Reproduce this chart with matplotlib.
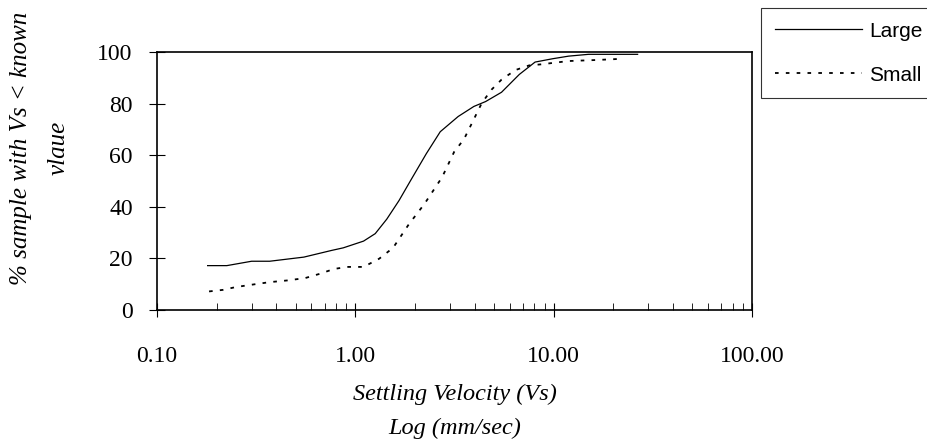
import matplotlib

matplotlib.use("Agg")
import matplotlib.pyplot as plt
from matplotlib.ticker import FixedLocator, LogLocator, NullFormatter

# settling velocity (mm/sec) vs cumulative % of sample below that velocity
large_vs = [0.18, 0.225, 0.30, 0.37, 0.55, 0.76, 0.87, 1.10, 1.26, 1.44, 1.66, 1.90,
            2.28, 2.68, 3.30, 3.96, 4.54, 5.46, 6.71, 8.06, 9.9, 11.9, 15.0, 26.5]
large_pct = [17.2, 17.2, 18.9, 18.9, 20.5, 23.1, 24.1, 26.7, 29.6, 35.2, 42.4, 50.2,
             60.6, 69.1, 75.0, 78.9, 80.8, 84.4, 91.3, 96.1, 97.4, 98.4, 99.1, 99.1]

small_vs = [0.183, 0.215, 0.25, 0.30, 0.37, 0.46, 0.56, 0.66, 0.78, 0.91, 1.10, 1.32,
            1.55, 1.86, 2.23, 2.74, 3.15, 3.53, 3.87, 4.34, 4.86, 5.46, 6.41, 7.52,
            8.6, 11.9, 16.4, 22.6]
small_pct = [7.2, 7.8, 8.9, 9.8, 10.8, 11.5, 12.4, 14.0, 15.9, 16.7, 16.7, 19.9,
             24.1, 33.2, 41.1, 51.5, 61.3, 66.2, 72.4, 80.2, 85.4, 89.3, 93.0, 94.8,
             95.2, 96.5, 96.9, 97.4]

x_ticks = [0.1, 1.0, 10.0, 100.0]
x_ticklabels = ["0.10", "1.00", "10.00", "100.00"]
y_ticks = [0, 20, 40, 60, 80, 100]

SERIF = "Liberation Serif"
SANS = "Liberation Sans"

fig = plt.figure(figsize=(9.28, 4.42), dpi=100)
ax = fig.add_axes([157 / 928, 1 - 310 / 442, (752 - 157) / 928, (310 - 52) / 442])

ax.plot(large_vs, large_pct, color="black", lw=0.9, label="Large")
ax.plot(small_vs, small_pct, color="black", lw=1.3, ls=(0, (2, 4)), label="Small")

ax.set_xscale("log")
ax.set_xlim(0.1, 100)
ax.set_ylim(0, 100)
ax.xaxis.set_major_locator(FixedLocator(x_ticks))
ax.set_xticklabels(x_ticklabels)
ax.xaxis.set_minor_locator(LogLocator(base=10, subs=range(2, 10)))
ax.xaxis.set_minor_formatter(NullFormatter())
ax.set_yticks(y_ticks)

for sp in ax.spines.values():
    sp.set_linewidth(1.2)

ax.tick_params(axis="x", which="major", direction="inout", length=10, width=0.8,
               pad=21, labelsize=17)
ax.tick_params(axis="x", which="minor", direction="in", length=5, width=0.6)
ax.tick_params(axis="y", which="major", direction="inout", length=11, width=0.8,
               pad=12, labelsize=17)
for lab in ax.get_xticklabels() + ax.get_yticklabels():
    lab.set_fontfamily(SERIF)

ax.set_xlabel("Settling Velocity (Vs)\nLog (mm/sec)", fontfamily=SERIF,
              fontstyle="italic", fontsize=17.5, linespacing=1.8, labelpad=12)
fig.text(40 / 928, 1 - 148 / 442, "% sample with Vs < known\nvlaue", rotation=90,
         ha="center", va="center", multialignment="center", fontfamily=SERIF,
         fontstyle="italic", fontsize=18, linespacing=1.9)

leg = fig.legend(loc="upper left", bbox_to_anchor=(761 / 928, 1 - 8 / 442),
                 frameon=True, fancybox=False, handlelength=4.2, handletextpad=0.35,
                 borderpad=0.65, labelspacing=1.2, borderaxespad=0,
                 prop={"family": SANS, "size": 15})
leg.get_frame().set_edgecolor("black")
leg.get_frame().set_linewidth(0.8)

fig.savefig("out.png", dpi=100)
